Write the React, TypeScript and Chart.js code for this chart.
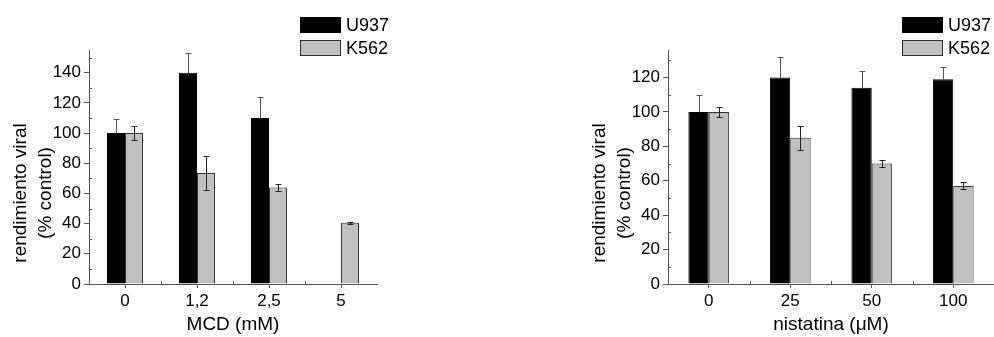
import React, { useEffect, useRef } from "react";
import { Chart, registerables } from "chart.js";

Chart.register(...registerables);

// ---- data ----
const mcdLabels = ["0", "1,2", "2,5", "5"];
const mcdU937 = [100, 140, 110, null];
const mcdU937Err = [9.5, 13, 14, null];
const mcdK562 = [100, 73.5, 64, 40.5];
const mcdK562Err = [4.5, 11, 2.4, 0.5];

const nysLabels = ["0", "25", "50", "100"];
const nysU937 = [100, 120, 114, 119];
const nysU937Err = [10, 12, 10, 7];
const nysK562 = [100, 85, 70, 57];
const nysK562Err = [3, 7, 2, 2];

const seriesNames = ["U937", "K562"];
const yTitleLines = ["rendimiento viral", "(% control)"];

// ---- styling ----
const FONT = "'Liberation Sans', Arial, sans-serif";
const AXIS = "#555555";
const BLACK = "#000000";
const GREY = "#c0c0c0";
const EDGE = "#333333";

type Panel = {
  labels: string[];
  u937: (number | null)[];
  u937Err: (number | null)[];
  k562: number[];
  k562Err: number[];
  yMax: number;
  xTitle: string;
  canvasLeft: number;
  canvasWidth: number;
  plotLeft: number;
  plotRight: number;
  legendLeft: number;
};

const CANVAS_H = 337;
const PLOT_TOP = 50;
const PLOT_BOTTOM = 284;

// Error bars: the black series only shows its upper whisker.
const errorBars = {
  id: "errorBars",
  afterDatasetsDraw(chart: any) {
    const { ctx } = chart;
    const yScale = chart.scales.y;
    chart.data.datasets.forEach((ds: any, di: number) => {
      const meta = chart.getDatasetMeta(di);
      const errs = ds.errors as (number | null)[];
      meta.data.forEach((el: any, i: number) => {
        const v = ds.data[i];
        const e = errs[i];
        if (v == null || e == null) return;
        const top = Math.round(yScale.getPixelForValue(v + e)) + 0.5;
        const bot = ds.upperOnly
          ? Math.round(yScale.getPixelForValue(v)) + 0.5
          : Math.round(yScale.getPixelForValue(v - e)) + 0.5;
        const x = Math.round(el.x) + 0.5;
        ctx.save();
        ctx.strokeStyle = ds.errorColor;
        ctx.lineWidth = 1;
        ctx.beginPath();
        ctx.moveTo(x, top);
        ctx.lineTo(x, bot);
        ctx.moveTo(x - 3, top);
        ctx.lineTo(x + 3, top);
        if (!ds.upperOnly) {
          ctx.moveTo(x - 3, bot);
          ctx.lineTo(x + 3, bot);
        }
        ctx.stroke();
        ctx.restore();
      });
    });
  },
};

const decorations = {
  id: "decorations",
  afterDraw(chart: any, _args: any, opts: any) {
    const { ctx, chartArea } = chart;
    const xs = chart.scales.x;
    const ys = chart.scales.y;
    ctx.save();
    // minor ticks
    ctx.strokeStyle = AXIS;
    ctx.lineWidth = 1;
    ctx.beginPath();
    const n = chart.data.labels.length;
    for (let i = 0; i < n - 1; i++) {
      const px = Math.round((xs.getPixelForTick(i) + xs.getPixelForTick(i + 1)) / 2) + 0.5;
      ctx.moveTo(px, chartArea.bottom);
      ctx.lineTo(px, chartArea.bottom - 3);
    }
    for (let v = 10; v < ys.max; v += 20) {
      const py = Math.round(ys.getPixelForValue(v)) + 0.5;
      ctx.moveTo(chartArea.left, py);
      ctx.lineTo(chartArea.left + 3, py);
    }
    ctx.stroke();

    // axis titles
    ctx.fillStyle = "#000";
    ctx.font = `19px ${FONT}`;
    ctx.textAlign = "center";
    ctx.textBaseline = "middle";
    ctx.fillText(opts.xTitle, (chartArea.left + chartArea.right) / 2, chartArea.bottom + 41);
    const cy = chartArea.bottom - 91;
    ctx.save();
    ctx.translate(chartArea.left - 68, cy);
    ctx.rotate(-Math.PI / 2);
    ctx.fillText(yTitleLines[0], 0, 0);
    ctx.restore();
    ctx.save();
    ctx.translate(chartArea.left - 43, cy);
    ctx.rotate(-Math.PI / 2);
    ctx.fillText(yTitleLines[1], 0, 0);
    ctx.restore();

    // legend
    const lx = opts.legendLeft;
    const boxW = 41;
    const boxH = 16;
    const rows = [
      { y: 17, fill: BLACK, stroke: BLACK },
      { y: 40, fill: GREY, stroke: EDGE },
    ];
    ctx.font = `18px ${FONT}`;
    ctx.textAlign = "left";
    rows.forEach((r, i) => {
      ctx.fillStyle = r.fill;
      ctx.fillRect(lx, r.y, boxW, boxH);
      ctx.strokeStyle = r.stroke;
      ctx.strokeRect(lx + 0.5, r.y + 0.5, boxW - 1, boxH - 1);
      ctx.fillStyle = "#000";
      ctx.fillText(seriesNames[i], lx + boxW + 5, r.y + boxH / 2 + 1);
    });
    ctx.restore();
  },
};

function BarPanel({ p }: { p: Panel }) {
  const ref = useRef<HTMLCanvasElement | null>(null);
  useEffect(() => {
    if (!ref.current) return;
    const chart = new Chart(ref.current, {
      type: "bar",
      data: {
        labels: p.labels,
        datasets: [
          {
            label: seriesNames[0],
            data: p.u937,
            backgroundColor: BLACK,
            borderColor: BLACK,
            borderWidth: 1,
            errors: p.u937Err,
            errorColor: "#555555",
            upperOnly: true,
          } as any,
          {
            label: seriesNames[1],
            data: p.k562,
            backgroundColor: GREY,
            borderColor: EDGE,
            borderWidth: 1,
            errors: p.k562Err,
            errorColor: "#222222",
            upperOnly: false,
          } as any,
        ],
      },
      options: {
        responsive: false,
        animation: false,
        devicePixelRatio: 1,
        layout: {
          padding: { left: 0, right: p.canvasWidth - p.plotRight, top: PLOT_TOP, bottom: 0 },
        },
        datasets: {
          bar: { barPercentage: 1, categoryPercentage: 0.5 },
        },
        plugins: {
          legend: { display: false },
          tooltip: { enabled: false },
          decorations: { xTitle: p.xTitle, legendLeft: p.legendLeft - p.canvasLeft },
        } as any,
        scales: {
          x: {
            offset: true,
            grid: {
              display: true,
              drawOnChartArea: false,
              drawTicks: true,
              tickLength: 4,
              color: AXIS,
              offset: false,
            },
            border: { display: true, color: AXIS, width: 1 },
            ticks: { color: "#000", font: { family: FONT, size: 17 }, padding: 3, maxRotation: 0 },
            afterFit: (s: any) => {
              s.height = CANVAS_H - PLOT_BOTTOM;
            },
          },
          y: {
            min: 0,
            max: p.yMax,
            grid: {
              display: true,
              drawOnChartArea: false,
              drawTicks: true,
              tickLength: 5,
              color: AXIS,
            },
            border: { display: true, color: AXIS, width: 1 },
            ticks: { stepSize: 20, color: "#000", font: { family: FONT, size: 17 }, padding: 3 },
            afterBuildTicks: (s: any) => {
              s.ticks = s.ticks.filter((t: any) => t.value % 20 === 0);
            },
            afterFit: (s: any) => {
              s.width = p.plotLeft - p.canvasLeft;
            },
          },
        },
      } as any,
      plugins: [errorBars, decorations],
    });
    return () => chart.destroy();
  }, [p]);
  return (
    <canvas
      ref={ref}
      width={p.canvasWidth}
      height={CANVAS_H}
      style={{ position: "absolute", left: p.canvasLeft, top: 0, width: p.canvasWidth, height: CANVAS_H, display: "block" }}
    />
  );
}

const mcdPanel: Panel = {
  labels: mcdLabels,
  u937: mcdU937,
  u937Err: mcdU937Err,
  k562: mcdK562,
  k562Err: mcdK562Err,
  yMax: 155,
  xTitle: "MCD (mM)",
  canvasLeft: 0,
  canvasWidth: 500,
  plotLeft: 89,
  plotRight: 377,
  legendLeft: 300,
};

const nysPanel: Panel = {
  labels: nysLabels,
  u937: nysU937,
  u937Err: nysU937Err,
  k562: nysK562,
  k562Err: nysK562Err,
  yMax: 136,
  xTitle: "nistatina (\u03bcM)",
  canvasLeft: 500,
  canvasWidth: 494,
  plotLeft: 668,
  plotRight: 957,
  legendLeft: 902,
};

export default function App() {
  return (
    <div style={{ position: "fixed", left: 0, top: 0, width: 994, height: CANVAS_H, background: "#fff" }}>
      <BarPanel p={mcdPanel} />
      <BarPanel p={nysPanel} />
    </div>
  );
}
